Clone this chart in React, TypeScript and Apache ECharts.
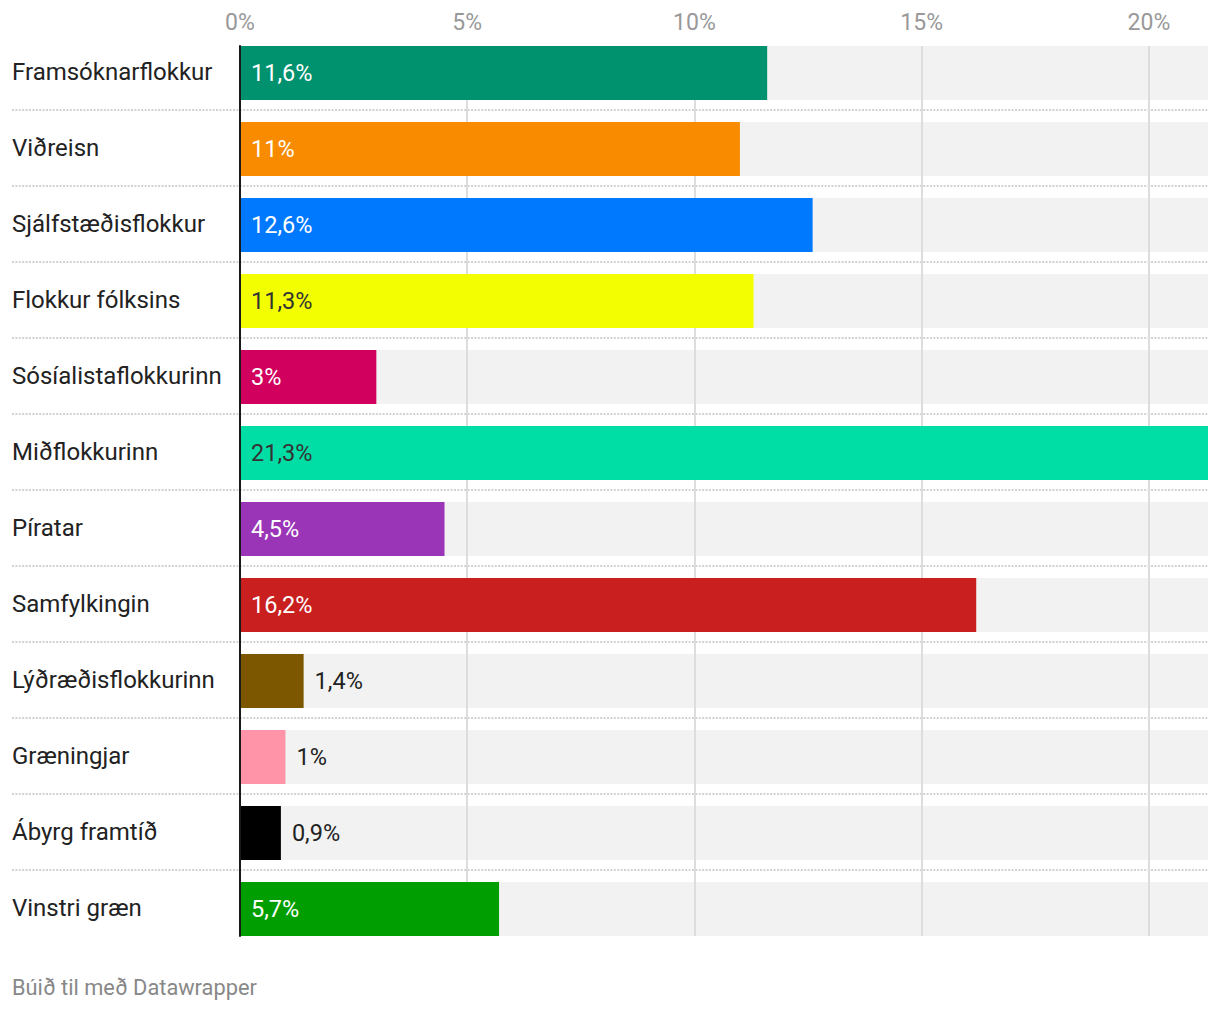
import React, { useEffect, useRef } from "react";
import * as echarts from "echarts";

const categories = [
  "Framsóknarflokkur",
  "Viðreisn",
  "Sjálfstæðisflokkur",
  "Flokkur fólksins",
  "Sósíalistaflokkurinn",
  "Miðflokkurinn",
  "Píratar",
  "Samfylkingin",
  "Lýðræðisflokkurinn",
  "Græningjar",
  "Ábyrg framtíð",
  "Vinstri græn",
];

const values = [11.6, 11, 12.6, 11.3, 3, 21.3, 4.5, 16.2, 1.4, 1, 0.9, 5.7];

const colors = [
  "#00916f",
  "#f88b00",
  "#0079ff",
  "#f3ff00",
  "#d1005e",
  "#00dea6",
  "#9b35b8",
  "#c91f1f",
  "#7d5600",
  "#ff93a7",
  "#000000",
  "#009e00",
];

const tickValues = [0, 5, 10, 15, 20];
const footer = "Búið til með Datawrapper";

const FONT = "Roboto";

function luminance(hex: string): number {
  const h = hex.replace("#", "");
  const c = [0, 2, 4].map((i) => parseInt(h.slice(i, i + 2), 16) / 255);
  const l = c.map((v) => (v <= 0.03928 ? v / 12.92 : Math.pow((v + 0.055) / 1.055, 2.4)));
  return 0.2126 * l[0] + 0.7152 * l[1] + 0.0722 * l[2];
}

function fmt(v: number): string {
  return String(v).replace(".", ",") + "%";
}

export default function App() {
  const ref = useRef<HTMLDivElement>(null);

  useEffect(() => {
    if (!ref.current) return;
    const chart = echarts.init(ref.current, null, { renderer: "svg" });
    const maxV = Math.max(...values);
    const tickStep = tickValues[1] - tickValues[0];

    const barData = values.map((v, i) => {
      const inside = v >= 2;
      const light = luminance(colors[i]) > 0.45;
      return {
        value: v,
        itemStyle: { color: colors[i] },
        label: {
          show: true,
          position: inside ? "insideLeft" : "right",
          distance: 11,
          color: inside ? (light ? "#333333" : "#ffffff") : "#222222",
          fontFamily: FONT,
          fontSize: 23.5,
          formatter: () => fmt(v),
        },
      };
    });

    const option: any = {
      animation: false,
      backgroundColor: "#ffffff",
      textStyle: { fontFamily: FONT },
      grid: [
        { left: 240, width: 968, top: 35, height: 912 },
        { left: 240, width: 968, top: 46, height: 890 },
        { left: 12, width: 1196, top: 34, height: 912 },
      ],
      xAxis: [
        {
          gridIndex: 0,
          type: "value",
          position: "top",
          min: 0,
          max: maxV,
          interval: tickStep,
          axisLine: { show: false },
          axisTick: { show: false },
          splitLine: { show: false },
          axisLabel: {
            show: true,
            showMaxLabel: false,
            margin: 1,
            color: "#999999",
            fontFamily: FONT,
            fontSize: 23,
            formatter: (v: number) => (tickValues.includes(v) ? v + "%" : ""),
          },
        },
        {
          gridIndex: 1,
          type: "value",
          min: 0,
          max: maxV,
          interval: tickStep,
          z: 2,
          axisLine: { show: false },
          axisTick: { show: false },
          axisLabel: { show: false },
          splitLine: {
            show: true,
            showMinLine: false,
            showMaxLine: false,
            lineStyle: { color: "#dddddd", width: 2 },
          },
        },
        {
          gridIndex: 2,
          type: "value",
          min: 0,
          max: 1,
          show: false,
        },
      ],
      yAxis: [
        {
          gridIndex: 0,
          type: "category",
          data: categories,
          inverse: true,
          show: false,
        },
        {
          gridIndex: 1,
          type: "value",
          min: 0,
          max: 1,
          z: 5,
          axisLine: { show: true, lineStyle: { color: "#1a1a1a", width: 2 } },
          axisTick: { show: false },
          axisLabel: { show: false },
          splitLine: { show: false },
        },
        {
          gridIndex: 2,
          type: "category",
          data: categories,
          inverse: true,
          z: 0,
          axisLine: { show: false },
          axisTick: { show: false },
          axisLabel: {
            show: true,
            inside: true,
            margin: 0,
            align: "left",
            color: "#222222",
            fontFamily: FONT,
            fontSize: 24,
          },
          splitLine: {
            show: true,
            showMinLine: false,
            showMaxLine: false,
            lineStyle: { color: "#d2d2d2", width: 2, type: [2, 1.4] },
          },
        },
      ],
      series: [
        {
          type: "bar",
          xAxisIndex: 0,
          yAxisIndex: 0,
          data: categories.map(() => maxV),
          barWidth: 54,
          barGap: "-100%",
          z: 1,
          silent: true,
          itemStyle: { color: "#f2f2f2" },
        },
        {
          type: "bar",
          xAxisIndex: 0,
          yAxisIndex: 0,
          data: barData,
          barWidth: 54,
          barGap: "-100%",
          z: 3,
        },
      ],
      graphic: [
        {
          type: "text",
          left: 12,
          top: 976,
          style: {
            text: footer,
            fill: "#888888",
            font: `21.8px ${FONT}`,
          },
        },
      ],
    };

    chart.setOption(option);
    return () => chart.dispose();
  }, []);

  return (
    <div
      ref={ref}
      style={{ position: "absolute", left: 0, top: 0, width: 1220, height: 1012 }}
    />
  );
}
